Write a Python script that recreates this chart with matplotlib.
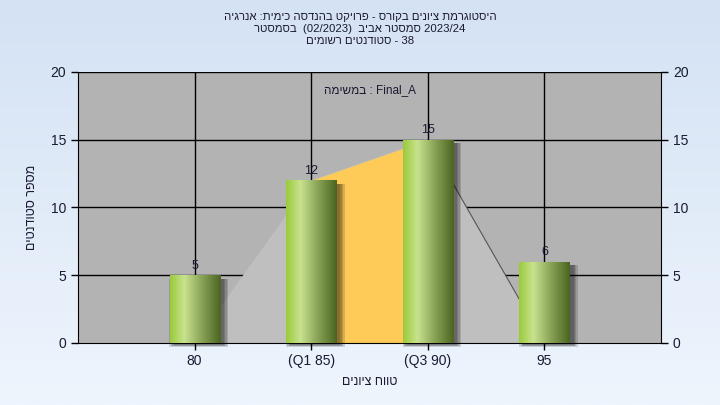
"""Grade histogram chart (Hebrew, RTL text drawn in visual order)."""

import matplotlib.pyplot as plt
import numpy as np
from matplotlib.colors import LinearSegmentedColormap
from matplotlib.patches import Rectangle, Polygon

plt.rcParams['font.family'] = ['Liberation Sans', 'DejaVu Sans']


def rtl(s):
    # matplotlib has no bidi, so Hebrew runs are reversed by hand
    return s[::-1]


# data
categories = ['80', '(Q1 85)', '(Q3 90)', '95']
counts = [5, 12, 15, 6]
curve_vals = [0, 12, 15, 0]
q_range = [1, 2]  # Q1..Q3 band
y_ticks = [0, 5, 10, 15, 20]

title_1 = rtl('היסטוגרמת ציונים בקורס - פרויקט בהנדסה כימית: אנרגיה')
title_2 = rtl('בסמסטר') + '  (02/2023)  ' + rtl('סמסטר אביב') + ' 2023/24'
title_3 = rtl('סטודנטים רשומים') + ' - 38'
task_text = rtl('במשימה') + ' : Final_A'
x_label = rtl('טווח ציונים')
y_label = rtl('מספר סטודנטים')

text_col = '#1a1a33'

fig = plt.figure(figsize=(7.2, 4.05), dpi=100)

# background gradient
bg = fig.add_axes([0, 0, 1, 1], zorder=-10)
grad = np.linspace(0, 1, 256).reshape(-1, 1)
bg_cmap = LinearSegmentedColormap.from_list('bg', ['#d4e2f4', '#eef5fd'])
bg.imshow(grad, aspect='auto', cmap=bg_cmap, extent=[0, 1, 0, 1])
bg.axis('off')

ax = fig.add_axes([78 / 720, 1 - 343 / 405, 583 / 720, 271 / 405])
ax.set_facecolor('#b3b3b3')
x = np.arange(len(categories))

# grid behind everything
for yv in y_ticks[1:]:
    ax.axhline(yv, color='black', lw=1, zorder=0.5)
for xv in x:
    ax.axvline(xv, color='black', lw=1, zorder=0.5)

# distribution polygon
poly = Polygon(list(zip(x, curve_vals)), closed=True, facecolor='#bfbfbf',
               edgecolor='none', zorder=1)
ax.add_patch(poly)
ax.plot(x[2:], curve_vals[2:], color='#555555', lw=0.8, zorder=1.2)

# Q1-Q3 band
qx = x[q_range[0]:q_range[1] + 1]
qy = curve_vals[q_range[0]:q_range[1] + 1]
ax.fill_between(qx, 0, qy, color='#fecb59', lw=0, zorder=1.1)

# bars with gradient and soft shadow
bar_w = 0.43
bar_cmap = LinearSegmentedColormap.from_list(
    'bar', [(0, '#9acb3a'), (0.28, '#c8e28e'), (0.6, '#8da85a'), (1, '#4b6522')])
hgrad = np.linspace(0, 1, 128).reshape(1, -1)
for xi, v in zip(x, counts):
    for k in range(4):
        grow = 0.012 * k
        sh = Rectangle((xi - bar_w / 2 + 0.035 - grow, -0.15 - grow * 4),
                       bar_w + 2 * grow, v + grow * 4 - 0.1, facecolor='black',
                       alpha=0.14, lw=0, zorder=2, clip_on=False)
        ax.add_patch(sh)
    rect = Rectangle((xi - bar_w / 2, 0), bar_w, v, facecolor='none', lw=0, zorder=3)
    ax.add_patch(rect)
    im = ax.imshow(hgrad, aspect='auto', cmap=bar_cmap,
                   extent=[xi - bar_w / 2, xi + bar_w / 2, 0, v], zorder=3)
    im.set_clip_path(rect)
    ax.text(xi, v + 0.25, str(v), ha='center', va='bottom', fontsize=9,
            color=text_col, zorder=4)

ax.set_xlim(-1, len(categories))
ax.set_ylim(0, 20)

ax.text(0.5, 0.955, task_text, transform=ax.transAxes, ha='center', va='top',
        fontsize=8.5, color=text_col)

ax.set_xticks(x)
ax.set_xticklabels(categories)
ax.set_yticks(y_ticks)
ax.tick_params(axis='both', direction='out', length=5, width=1, color='black',
               labelsize=10, labelcolor=text_col)
ax.tick_params(axis='y', right=True, labelright=True)
ax.tick_params(axis='x', pad=3)
ax.spines['top'].set_visible(False)

ax.set_xlabel(x_label, fontsize=9, color=text_col, labelpad=6)
ax.set_ylabel(y_label, fontsize=9, color=text_col)
ax.yaxis.set_label_coords(-0.068, 0.5)

fig.text(0.5, 0.958, title_1, ha='center', va='center', fontsize=8.2, color=text_col)
fig.text(0.5, 0.928, title_2, ha='center', va='center', fontsize=8.2, color=text_col)
fig.text(0.5, 0.898, title_3, ha='center', va='center', fontsize=8.2, color=text_col)

fig.savefig('out.png', dpi=100)
